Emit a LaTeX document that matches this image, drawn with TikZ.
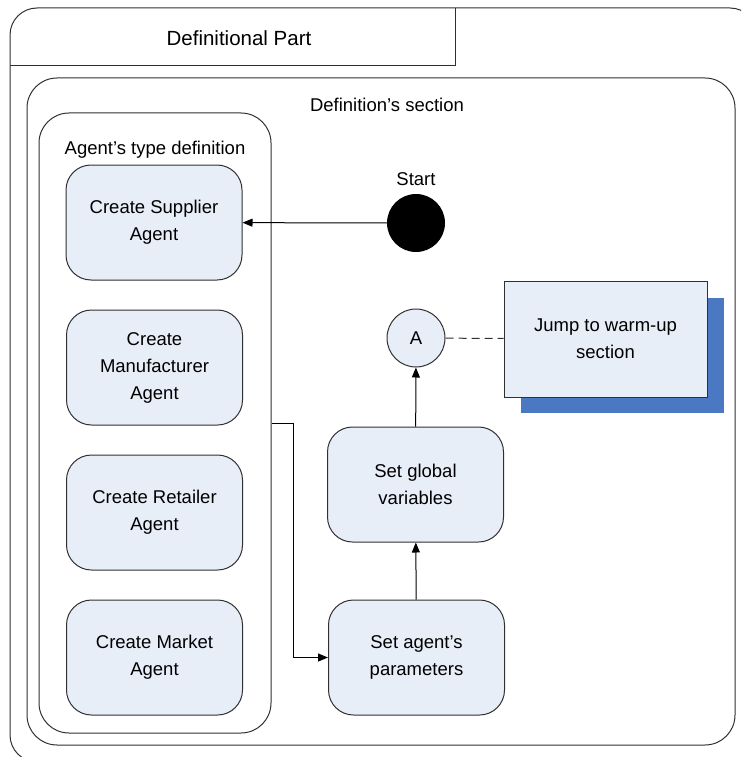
\documentclass[tikz,border=0pt]{standalone}
\usepackage{fontspec}
\setmainfont{Liberation Sans}
\usetikzlibrary{arrows.meta}
\definecolor{boxfill}{HTML}{E8EEF8}
\definecolor{shadowblue}{HTML}{4A78C2}
\definecolor{edge}{HTML}{303030}
\begin{document}
\begin{tikzpicture}[x=1pt,y=-1pt,
  txt/.style={font=\fontsize{18.5}{27}\selectfont},
  action/.style={draw=edge, line width=1pt, fill=boxfill, rounded corners=25pt,
    minimum width=176pt, minimum height=115pt, inner sep=0pt, align=center, txt},
  container/.style={draw=edge, line width=1pt, rounded corners=30pt, inner sep=0pt},
  flow/.style={draw=black, line width=1pt, -{Triangle[length=10pt,width=8pt]}},
]
\useasboundingbox (0,0) rectangle (741,757);
\begin{scope}
\clip (0,0) rectangle (741,757);
% outer frame with its title tab
\draw[draw=edge, line width=1pt, rounded corners=27pt] (10,8) rectangle (757,762);
\draw[draw=edge, line width=1pt] (10,66) -- (455,66) -- (455,8);
\end{scope}
\node[txt, font=\fontsize{20.5}{24}\selectfont] (title) at (239,38) {Definitional Part};

% definition section and agent type group
\node[container, minimum width=708pt, minimum height=667pt] (sec) at (381,411.5) {};
\node[txt, anchor=base] (sectitle) at (387,112) {Definition’s section};
\node[container, minimum width=232pt, minimum height=620pt] (atd) at (155,423) {};
\node[txt, anchor=base] (atdtitle) at (155,154) {Agent’s type definition};

% agent creation steps
\node[action] (sup) at (154,222.5) {Create Supplier\\Agent};
\node[action] (man) at (154.5,367.5) {Create\\Manufacturer\\Agent};
\node[action] (ret) at (154.5,512.5) {Create Retailer\\Agent};
\node[action] (mkt) at (154.5,657.5) {Create Market\\Agent};

% start point
\node[circle, fill=black, minimum size=58pt, inner sep=0pt] (start) at (416,223) {};
\node[txt, anchor=base] (startlbl) at (416,185) {Start};

% main flow
\node[action] (glob) at (415.5,484.5) {Set global\\variables};
\node[action] (par) at (416.5,657.5) {Set agent’s\\parameters};
\node[circle, draw=edge, line width=1pt, fill=boxfill, minimum size=58pt, inner sep=0pt, txt] (A) at (416,338) {A};

% note with drop shadow
\fill[shadowblue] (521,298) rectangle (724,413);
\node[draw=edge, line width=1pt, fill=boxfill, minimum width=203pt, minimum height=116pt,
  inner sep=0pt, align=center, txt] (jump) at (605.5,339) {Jump to warm-up\\section};

% connectors
\draw[flow] (start) -- (sup);
\draw[flow] (atd.east) -- ++(22,0) |- (par.west);
\draw[flow] (par) -- (glob);
\draw[flow] (glob) -- (A);
\draw[draw=edge, line width=1pt, dashed, dash pattern=on 8pt off 5pt] (A) -- (jump);
\end{tikzpicture}
\end{document}
